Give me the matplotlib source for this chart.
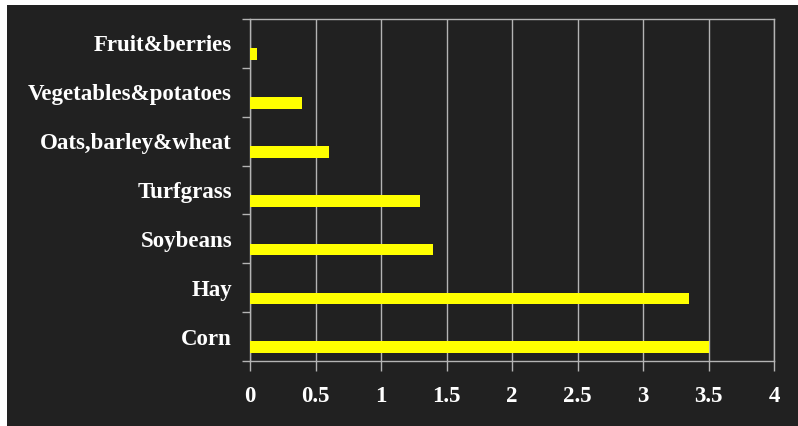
import numpy as np
import matplotlib.pyplot as plt
from matplotlib.patches import Rectangle

# crops, bottom to top as drawn
crops = ["Corn", "Hay", "Soybeans", "Turfgrass", "Oats,barley&wheat",
         "Vegetables&potatoes", "Fruit&berries"]
values = [3.5, 3.35, 1.4, 1.3, 0.6, 0.4, 0.05]
xticks = [0, 0.5, 1, 1.5, 2, 2.5, 3, 3.5, 4]
xtick_labels = ["0", "0.5", "1", "1.5", "2", "2.5", "3", "3.5", "4"]

bg = "#212121"
line_col = "#b4b4b4"

fig = plt.figure(figsize=(7.98, 4.26), dpi=100, facecolor="white")
# dark slide area, thin white strip on top and left
fig.patches.append(Rectangle((6.5 / 798, 0), 1, 1 - 5 / 426, transform=fig.transFigure,
                             facecolor=bg, edgecolor="none", zorder=-1))

ax = fig.add_axes([250 / 798, 1 - 361 / 426, 524 / 798, 342 / 426])
ax.set_facecolor(bg)

y = np.arange(len(crops))
ax.barh(y - 0.22, values, height=0.24, color="#ffff00", zorder=3)

ax.set_xlim(0, 4)
ax.set_ylim(-0.5, len(crops) - 0.5)
ax.set_xticks(xticks)
ax.set_xticklabels(xtick_labels)
ax.set_yticks(y)
ax.set_yticklabels(crops)
ax.set_yticks(np.arange(len(crops) + 1) - 0.5, minor=True)

font = {"family": "Liberation Serif", "weight": "bold", "size": 16.5, "color": "white"}
for lab in ax.get_xticklabels() + ax.get_yticklabels():
    lab.set_fontfamily(font["family"])
    lab.set_fontweight(font["weight"])
    lab.set_fontsize(font["size"])
    lab.set_color(font["color"])

ax.tick_params(axis="y", which="major", length=0, pad=13)
ax.tick_params(axis="y", which="minor", length=6, color=line_col, width=1)
ax.tick_params(axis="x", length=7, color=line_col, width=1, pad=11)

ax.grid(axis="x", color=line_col, linewidth=1, zorder=1)
for side in ["left", "bottom", "top", "right"]:
    ax.spines[side].set_color(line_col)
    ax.spines[side].set_linewidth(1)

fig.savefig("out.png", dpi=100, facecolor=fig.get_facecolor())
